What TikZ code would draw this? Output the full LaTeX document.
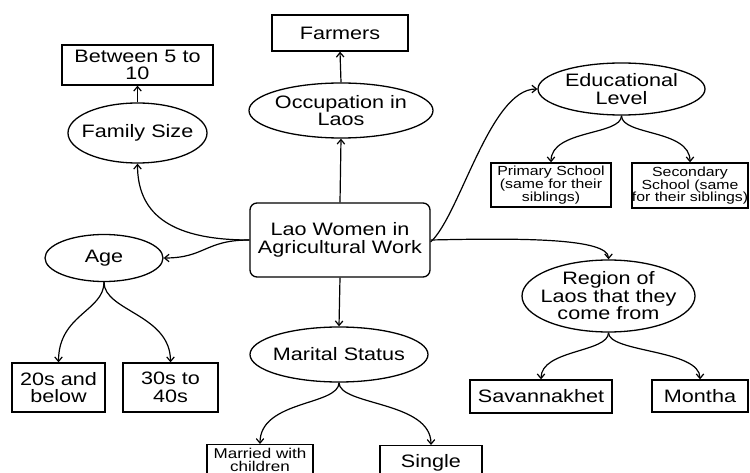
\documentclass[tikz,border=0pt]{standalone}
\usepackage{fontspec}
\setmainfont{Liberation Sans}[FakeStretch=1.2]
\usetikzlibrary{shapes.geometric,arrows.meta}

\tikzset{
  big/.style={font=\fontsize{18}{17.5}\selectfont},
  mid/.style={font=\fontsize{14.2}{13}\selectfont},
  small/.style={font=\fontsize{13.2}{12.3}\selectfont},
  box/.style={draw, line width=1.3pt, rectangle, inner sep=0pt, align=center},
  oval/.style={draw, line width=1.3pt, ellipse, inner sep=0pt},
  ovaltext/.style={big, align=center, inner sep=0pt},
  link/.style={line width=1.2pt, -{Straight Barb[length=4.5pt,width=7.5pt,line width=1.2pt]}},
}

\begin{document}
\begin{tikzpicture}[x=1pt, y=-1pt]
\useasboundingbox (0,0) rectangle (750,473);

% central topic
\node[box, big, rounded corners=7pt, minimum width=180pt, minimum height=74pt]
  (center) at (340,240) {Lao Women in\\Agricultural Work};

% occupation branch
\node[oval, minimum width=184pt, minimum height=55pt] (occ) at (341,110.5) {};
\node[ovaltext] (occtxt) at (occ) {Occupation in\\Laos};
\node[box, big, minimum width=136pt, minimum height=36pt] (farm) at (340,33) {Farmers};

% family size branch
\node[oval, minimum width=139pt, minimum height=60pt] (fam) at (137.5,133) {};
\node[ovaltext] (famtxt) at (fam) {Family Size};
\node[box, big, minimum width=151pt, minimum height=40pt] (between) at (137.5,65) {Between 5 to\\10};

% age branch
\node[oval, minimum width=118pt, minimum height=47pt] (age) at (104,258) {};
\node[ovaltext] (agetxt) at (age) {Age};
\node[box, big, minimum width=93pt, minimum height=49pt] (twenties) at (58.5,387.5) {20s and\\below};
\node[box, big, minimum width=95pt, minimum height=49pt] (thirties) at (170.5,387.5) {30s to\\40s};

% marital status branch
\node[oval, minimum width=178pt, minimum height=55pt] (marital) at (339,354.5) {};
\node[ovaltext] (maritaltxt) at (marital) {Marital Status};
\node[box, mid, minimum width=106pt, minimum height=30pt, anchor=north] (married) at (260,444) {Married with\\children};
\node[box, big, minimum width=102pt, minimum height=34pt, anchor=north] (single) at (431,445) {Single};

% education branch
\node[oval, minimum width=167pt, minimum height=52pt] (edu) at (621.5,89) {};
\node[ovaltext] (edutxt) at (edu) {Educational\\Level};
\node[box, small, minimum width=120pt, minimum height=44pt] (primary) at (551,185) {Primary School\\(same for their\\siblings)};
\node[box, small, minimum width=114pt, minimum height=45pt] (secondary) at (690,185.5) {Secondary\\School (same\\for their siblings)};

% region branch
\node[oval, minimum width=173pt, minimum height=72pt] (region) at (608.5,296) {};
\node[ovaltext] (regiontxt) at (region) {Region of\\Laos that they\\come from};
\node[box, big, minimum width=142pt, minimum height=33pt] (sav) at (541,396.5) {Savannakhet};
\node[box, big, minimum width=96pt, minimum height=32pt] (montha) at (700,396) {Montha};

% straight links
\draw[link] (center.north) -- (occ.south);
\draw[link] (occ.north) -- (farm.south);
\draw[link] (fam.north) -- (between.south);
\draw[link] (center.south) -- (marital.north);

% curved links from the central topic
\draw[link] (center.west) .. controls (165,240) and (137.5,210) .. (fam.south);
\draw[link] (center.west) .. controls (205,240) and (205,258) .. (age.east);
\draw[link] ([yshift=-2pt]center.east) .. controls (460,215) and (490,89) .. (edu.west);
\draw[link] (center.east) .. controls (520,238) and (608.5,238) .. (region.north);

% curved links to the sub-items
\draw[link] (age.south) .. controls +(0,29) and +(0,-48) .. (twenties.north);
\draw[link] (age.south) .. controls +(0,29) and +(0,-48) .. (thirties.north);
\draw[link] (marital.south) .. controls +(0,23) and +(0,-44) .. (married.north);
\draw[link] (marital.south) .. controls +(0,23) and +(0,-44) .. (single.north);
\draw[link] (edu.south) .. controls +(0,20) and +(0,-33) .. (primary.north);
\draw[link] (edu.south) .. controls +(0,20) and +(0,-33) .. (secondary.north);
\draw[link] (region.south) .. controls +(0,20) and +(0,-30) .. (sav.north);
\draw[link] (region.south) .. controls +(0,20) and +(0,-30) .. (montha.north);
\end{tikzpicture}
\end{document}
